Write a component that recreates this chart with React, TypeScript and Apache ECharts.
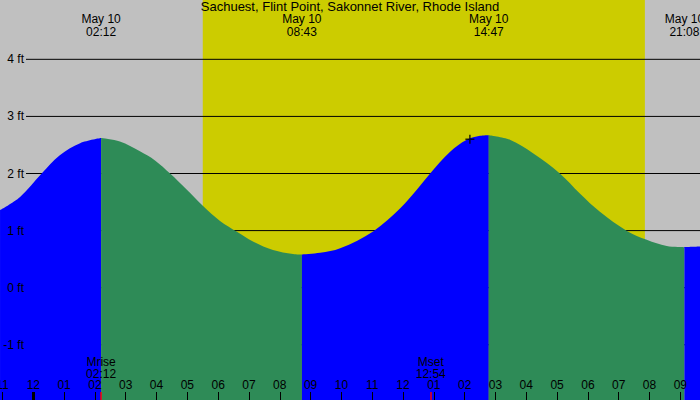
import React, { useEffect, useRef } from 'react';
import * as echarts from 'echarts';

// station + dates
const stationName = 'Sachuest, Flint Point, Sakonnet River, Rhode Island';
const dayLabel = 'May 10';

// tide curve, hours since May 10 00:00 -> height in ft
const tideHours = [
  -1.08, -0.43, 0.27, 0.86, 1.52, 2.2, 2.81, 3.46, 3.95, 4.44, 4.96, 5.51, 6.06, 6.61, 7.13, 7.78,
  8.43, 8.717, 9.31, 9.96, 11.04, 11.91, 12.44, 12.88, 13.53, 14.07, 14.5, 14.783, 15.47, 16.23,
  17.09, 17.74, 18.39, 19.28, 19.91, 20.56, 21.133, 21.64,
];
const tideFeet = [
  1.36, 1.59, 2.0, 2.32, 2.53, 2.62, 2.56, 2.39, 2.23, 2.0, 1.73, 1.43, 1.17, 0.98, 0.81, 0.66,
  0.59, 0.58, 0.61, 0.69, 0.99, 1.39, 1.71, 2.0, 2.38, 2.59, 2.66, 2.67, 2.59, 2.35,
  2.0, 1.65, 1.33, 0.99, 0.84, 0.73, 0.71, 0.72,
];

// high / low tide times
const tideEventTimes = ['02:12', '08:43', '14:47', '21:08'];

// moon rise / set
const moonNames = ['Mrise', 'Mset'];
const moonTimes = ['02:12', '12:54'];

// daylight
const sunrise = '05:30';
const sunset = '19:51';

// current-time marker
const nowHour = 14.17;
const nowFeet = 2.6;

// y grid levels and hour ticks
const feetLevels = [-1, 0, 1, 2, 3, 4];
const hourTicks = [-1, 0, 1, 2, 3, 4, 5, 6, 7, 8, 9, 10, 11, 12, 13, 14, 15, 16, 17, 18, 19, 20, 21];

const xMin = -1.081;
const xMax = 21.639;
const yMin = -1.967;
const yMax = 5.039;
const gridLineStart = -0.237;

const FONT = '"Liberation Sans", Arial, sans-serif';

const toHours = (s: string) => {
  const [h, m] = s.split(':').map(Number);
  return h + m / 60;
};

const hourLabel = (v: number) => {
  let h = ((Math.round(v) % 12) + 12) % 12;
  if (h === 0) h = 12;
  return String(h).padStart(2, '0');
};

const App: React.FC = () => {
  const chartRef = useRef<HTMLDivElement>(null);

  useEffect(() => {
    if (!chartRef.current) return;
    const chart = echarts.init(chartRef.current, undefined, { renderer: 'svg' });

    const eventHours = tideEventTimes.map(toHours);
    const moonHours = moonTimes.map(toHours);

    // split the curve into rising (blue) and falling (green) pieces at the tide events
    const cuts = [xMin - 1, ...eventHours, xMax + 1];
    const segments = [];
    for (let i = 0; i < cuts.length - 1; i++) {
      const pts: number[][] = [];
      tideHours.forEach((h, j) => {
        if (h >= cuts[i] - 0.01 && h <= cuts[i + 1] + 0.01) pts.push([h, tideFeet[j]]);
      });
      if (pts.length > 1) segments.push(pts);
    }

    const tideSeries = segments.map((pts, i) => ({
      type: 'line',
      xAxisIndex: 0,
      data: pts,
      smooth: 0.35,
      symbol: 'none',
      silent: true,
      z: 3,
      lineStyle: { width: 0 },
      areaStyle: { color: i % 2 === 0 ? '#0000ff' : '#2e8b57', opacity: 1, origin: 'start' },
    }));

    const levelSeries = feetLevels.map((v) => ({
      type: 'line',
      xAxisIndex: 0,
      data: [
        [gridLineStart, v],
        [xMax, v],
      ],
      symbol: 'none',
      silent: true,
      z: 2,
      lineStyle: { color: '#000', width: 1 },
    }));

    const baseAxis = {
      type: 'value',
      min: xMin,
      max: xMax,
      gridIndex: 0,
      z: 10,
      axisLine: { show: false, onZero: false },
      splitLine: { show: false },
    };

    const option = {
      animation: false,
      title: {
        text: stationName,
        left: 'center',
        top: 0,
        padding: 0,
        textStyle: { fontFamily: FONT, fontSize: 13, fontWeight: 'normal', color: '#000' },
      },
      grid: {
        left: 0,
        right: 0,
        top: 0,
        bottom: 0,
        containLabel: false,
        outerBoundsMode: 'none',
        show: true,
        backgroundColor: '#c0c0c0',
        borderWidth: 0,
      },
      xAxis: [
        {
          ...baseAxis,
          position: 'bottom',
          axisTick: {
            inside: true,
            length: 8,
            customValues: hourTicks,
            lineStyle: { color: '#000', width: 1 },
          },
          axisLabel: {
            inside: true,
            margin: 9,
            customValues: hourTicks,
            formatter: (v: number) => hourLabel(v),
            fontFamily: FONT,
            fontSize: 12,
            color: '#000',
            lineHeight: 12,
          },
        },
        {
          ...baseAxis,
          position: 'top',
          axisTick: { show: false },
          axisLabel: {
            inside: true,
            margin: 13,
            customValues: eventHours,
            formatter: (v: number) => {
              const i = eventHours.findIndex((h) => Math.abs(h - v) < 1e-6);
              return i < 0 ? '' : `${dayLabel}\n${tideEventTimes[i]}`;
            },
            fontFamily: FONT,
            fontSize: 12,
            color: '#000',
            lineHeight: 12.5,
          },
        },
        {
          ...baseAxis,
          position: 'bottom',
          axisTick: {
            inside: true,
            length: 8,
            customValues: moonHours,
            lineStyle: { color: '#ff0000', width: 1.5 },
          },
          axisLabel: {
            inside: true,
            margin: 20.5,
            customValues: moonHours,
            formatter: (v: number) => {
              const i = moonHours.findIndex((h) => Math.abs(h - v) < 1e-6);
              return i < 0 ? '' : `${moonNames[i]}\n${moonTimes[i]}`;
            },
            fontFamily: FONT,
            fontSize: 12,
            color: '#000',
            lineHeight: 12,
          },
        },
        {
          ...baseAxis,
          position: 'bottom',
          axisTick: {
            inside: true,
            length: 8,
            customValues: [0],
            lineStyle: { color: '#000', width: 3 },
          },
          axisLabel: { show: false },
        },
      ],
      yAxis: {
        type: 'value',
        min: yMin,
        max: yMax,
        z: 10,
        axisLine: { show: false, onZero: false },
        axisTick: { show: false },
        splitLine: { show: false },
        axisLabel: {
          inside: true,
          margin: 24,
          align: 'right',
          customValues: feetLevels,
          formatter: (v: number) => `${v} ft`,
          fontFamily: FONT,
          fontSize: 12,
          color: '#000',
        },
      },
      series: [
        {
          type: 'line',
          xAxisIndex: 0,
          data: [
            [toHours(sunrise), yMax],
            [toHours(sunset), yMax],
          ],
          symbol: 'none',
          silent: true,
          z: 1,
          lineStyle: { width: 0 },
          areaStyle: { color: '#cccc00', opacity: 1, origin: 'start' },
        },
        ...levelSeries,
        ...tideSeries,
        {
          type: 'scatter',
          xAxisIndex: 0,
          data: [[nowHour, nowFeet]],
          symbol: 'path://M0,5L10,5M5,0L5,10',
          symbolSize: 9,
          silent: true,
          z: 5,
          itemStyle: { color: 'none', borderColor: '#000', borderWidth: 1.5 },
        },
      ],
    };

    chart.setOption(option);

    return () => {
      chart.dispose();
    };
  }, []);

  return (
    <div
      ref={chartRef}
      style={{ position: 'absolute', left: 0, top: 0, width: '700px', height: '400px' }}
    />
  );
};

export default App;
